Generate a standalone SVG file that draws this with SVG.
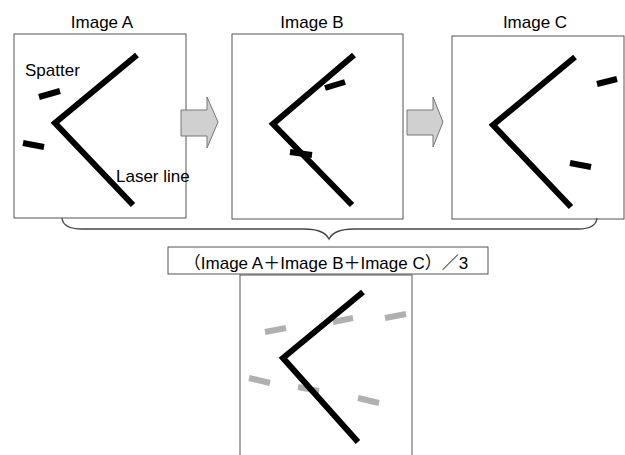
<svg xmlns="http://www.w3.org/2000/svg" width="625" height="455" viewBox="0 0 625 455">
<style>
.box{fill:#fff;stroke:#555;stroke-width:1}
.laser{fill:none;stroke:#000;stroke-width:6;stroke-linejoin:miter}
.sp{stroke:#000;stroke-width:6}
.gsp{stroke:#b0b0b0;stroke-width:6}
.t{font-family:"Liberation Sans",Arial,sans-serif;font-size:17px;fill:#000}
.f{font-family:"Liberation Sans","Noto Sans CJK JP",sans-serif;font-size:17px;fill:#000}
.arrow{fill:#d0d0d0;stroke:#777;stroke-width:1}
.brace{fill:none;stroke:#444;stroke-width:1.3}
</style>
<rect width="625" height="455" fill="#fff"/>
<g id="imageA">
<text class="t" x="102" y="27.5" text-anchor="middle">Image A</text>
<rect class="box" x="14" y="34" width="172" height="184"/>
<polyline class="laser" points="137,55 55,123 133,205"/>
<line class="sp" x1="39" y1="97" x2="60" y2="91"/>
<line class="sp" x1="23" y1="143" x2="44" y2="147"/>
<text class="t" x="25" y="76">Spatter</text>
<text class="t" x="116" y="182">Laser line</text>
</g>
<g id="imageB">
<text class="t" x="312" y="27.5" text-anchor="middle">Image B</text>
<rect class="box" x="232" y="34" width="171" height="185"/>
<polyline class="laser" points="354,55 273,124 352,205"/>
<line class="sp" x1="325" y1="88" x2="345" y2="82"/>
<line class="sp" x1="290" y1="152" x2="312" y2="155"/>
</g>
<g id="imageC">
<text class="t" x="535" y="27.5" text-anchor="middle">Image C</text>
<rect class="box" x="452" y="36" width="172" height="183"/>
<polyline class="laser" points="575,57 493,125 571,207"/>
<line class="sp" x1="597" y1="84" x2="617" y2="79"/>
<line class="sp" x1="570" y1="163" x2="591" y2="167"/>
</g>
<g id="connectors">
<polygon class="arrow" points="181,110 207,110 207,97 218,122 207,148 207,136 181,136"/>
<polygon class="arrow" points="407,110 433,110 433,97 443,122 433,147 433,135 407,135"/>
<path class="brace" d="M62,218 Q63,229 82,229 L304,229 Q324,229 329,239 Q334,229 354,229 L578,229 Q596,229 597,218"/>
</g>
<g id="formula">
<rect class="box" x="168" y="247" width="320" height="27"/>
<text class="f" x="326" y="269" text-anchor="middle">（Image A＋Image B＋Image C）／3</text>
</g>
<g id="average">
<rect class="box" x="240" y="275" width="172" height="190"/>
<line class="gsp" x1="265" y1="332" x2="286" y2="328"/>
<line class="gsp" x1="333" y1="322" x2="353" y2="318"/>
<line class="gsp" x1="385" y1="318" x2="406" y2="314"/>
<line class="gsp" x1="249" y1="378" x2="270" y2="383"/>
<line class="gsp" x1="298" y1="387" x2="319" y2="391"/>
<line class="gsp" x1="358" y1="398" x2="379" y2="403"/>
<polyline class="laser" points="363,292 283,358 358,442"/>
</g>
</svg>
